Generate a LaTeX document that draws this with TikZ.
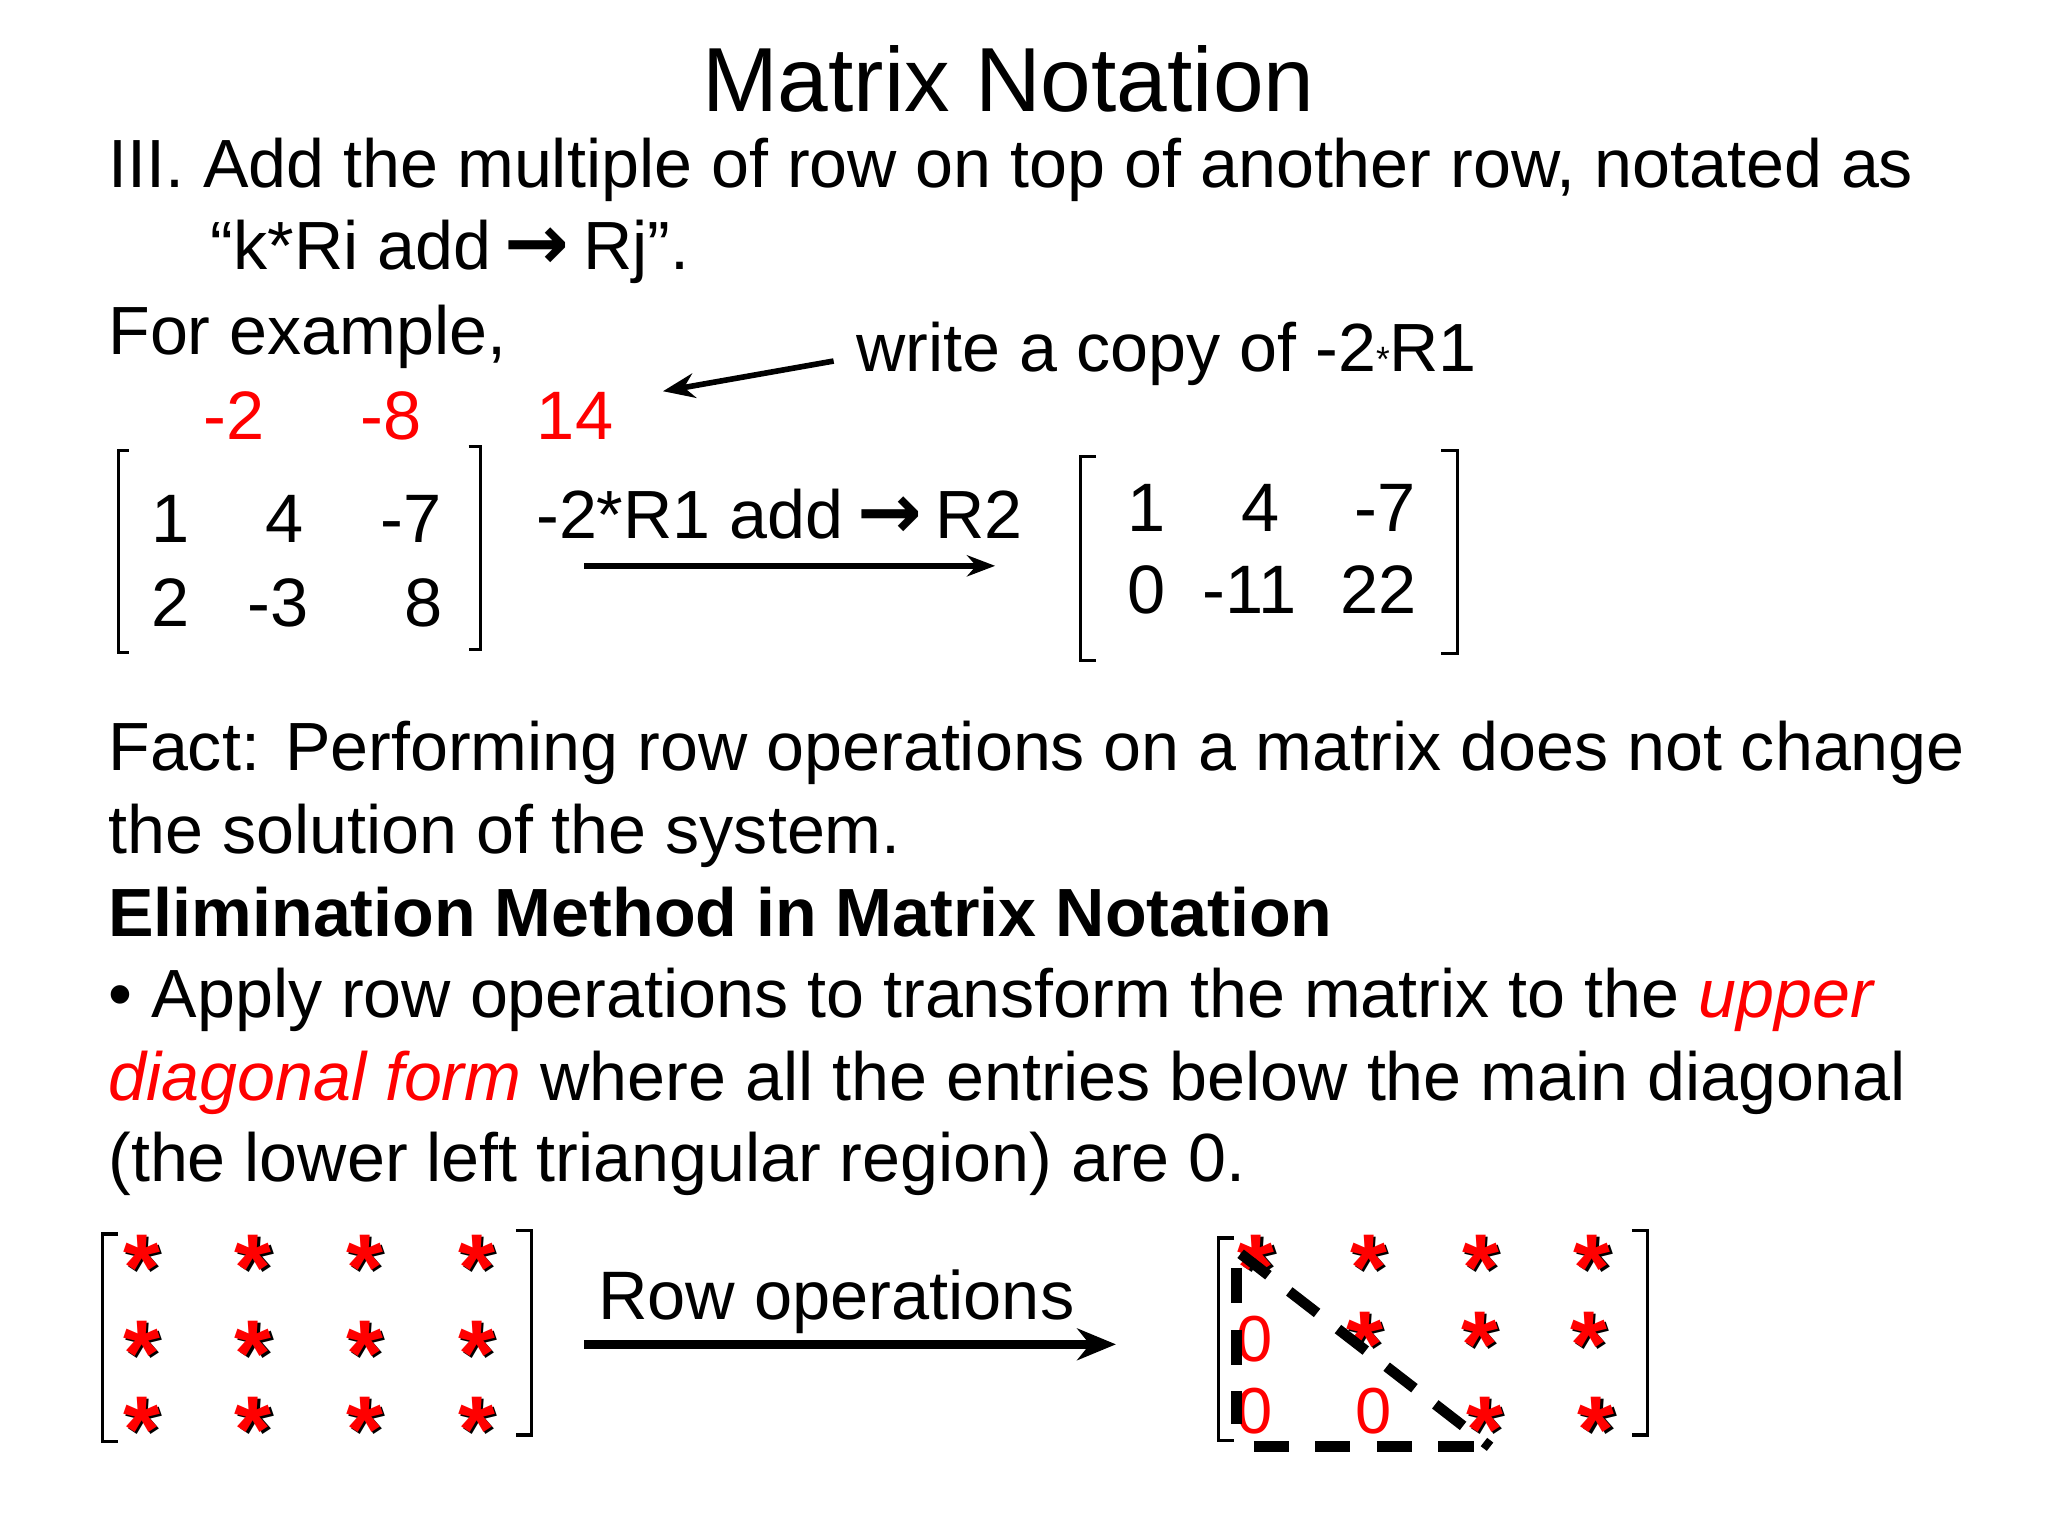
\documentclass[tikz,border=0pt]{standalone}
\usepackage{fontspec}
\setmainfont{Liberation Sans}
\newfontfamily\dejavu{DejaVu Sans}
\usetikzlibrary{arrows.meta}
\tikzset{
  txt/.style={anchor=base west,inner sep=0pt,font=\fontsize{19.4}{23}\selectfont},
  num/.style={anchor=base,inner sep=0pt,font=\fontsize{19.5}{23}\selectfont},
  rednum/.style={num,text=red},
  brk/.style={line width=0.9pt},
  star/.style={inner sep=0pt,font=\fontsize{27}{27}\selectfont\bfseries},
  zero/.style={inner sep=0pt,font=\fontsize{18.5}{20}\selectfont,text=red},
  tri/.style={line width=3pt,dash pattern=on 10pt off 7.5pt},
}
\newcommand{\rstar}[3]{\node[star,text=black] at ([shift={(1.6,1.6)}]#2,#3) {*};\node[star,text=red] (#1) at (#2,#3) {*};}
\newcommand{\myarr}{\hspace{0.2em}{\dejavu\fontsize{22}{20}\selectfont\bfseries →}\hspace{0.2em}}
\begin{document}
\begin{tikzpicture}[x=0.01313cm,y=-0.01313cm]
\useasboundingbox (0,0) rectangle (1560,1170);
\node[anchor=base,inner sep=0pt,font=\fontsize{25.9}{30}\selectfont] (title) at (768,85) {Matrix Notation};
\node[txt] (l1) at (82,143) {III. Add the multiple of row on top of another row, notated as};
\node[txt] (l2) at (160,205) {“k*Ri add\myarr Rj”.};
\node[txt] (l3) at (82,270) {For example,};
\node[txt] (wc) at (652,283) {write a copy of -2{\fontsize{10}{10}\selectfont*}R1};
\coordinate (wa) at (635,275);
\coordinate (wb) at (505,298);
\draw[line width=1.6pt,-{Stealth[length=9pt,width=7pt]}] (wa) -- (wb);
\node[rednum] (r1) at (178,335) {-2};
\node[rednum] (r2) at (298,335) {-8};
\node[rednum] (r3) at (438,335) {14};
% left matrix
\draw[brk] (98,343) -- (90,343) -- (90,497) -- (98,497);
\draw[brk] (357,340) -- (366,340) -- (366,495) -- (357,495);
\node[num] (a11) at (130,413) {1};
\node[num] (a12) at (217,413) {4};
\node[num] (a13) at (313,413) {-7};
\node[num] (a21) at (130,477) {2};
\node[num] (a22) at (212,477) {-3};
\node[num] (a23) at (323,477) {8};
\node[txt] (op) at (408,410) {-2*R1 add\myarr R2};
\coordinate (oa) at (445,431);
\coordinate (ob) at (758,431);
\draw[line width=1.6pt,-{Stealth[length=8pt,width=6pt]}] (oa) -- (ob);
% right matrix
\draw[brk] (835,348) -- (823,348) -- (823,503) -- (835,503);
\draw[brk] (1098,343) -- (1110,343) -- (1110,498) -- (1098,498);
\node[num] (b11) at (873,405) {1};
\node[num] (b12) at (960,405) {4};
\node[num] (b13) at (1055,405) {-7};
\node[num] (b21) at (873,467) {0};
\node[num] (b22) at (952,467) {-11};
\node[num] (b23) at (1050,467) {22};
% fact
\node[txt] (f1) at (82,587) {Fact: Performing row operations on a matrix does not change};
\node[txt] (f2) at (82,650) {the solution of the system.};
\node[txt,font=\fontsize{19.4}{23}\selectfont\bfseries] (hd) at (82,713) {Elimination Method in Matrix Notation};
\node[txt] (bu) at (82,775) {•};
\node[txt] (p1) at (115,775) {Apply row operations to transform the matrix to the \textcolor{red}{\itshape upper}};
\node[txt] (p2) at (82,838) {\textcolor{red}{\itshape diagonal form} where all the entries below the main diagonal};
\node[txt] (p3) at (82,900) {(the lower left triangular region) are 0.};
% bottom left matrix
\draw[brk] (90,940) -- (78,940) -- (78,1098) -- (90,1098);
\draw[brk] (393,937) -- (405,937) -- (405,1093) -- (393,1093);
\foreach \i/\x in {1/108,2/193,3/278,4/363}{
  \rstar{s1\i}{\x}{966}
  \rstar{s2\i}{\x}{1031}
  \rstar{s3\i}{\x}{1089}
}
\node[txt,font=\fontsize{19.5}{23}\selectfont] (ro) at (455,1005) {Row operations};
\coordinate (ra) at (445,1024);
\coordinate (rb) at (850,1024);
\draw[line width=2.6pt,-{Stealth[length=11pt,width=9pt]}] (ra) -- (rb);
% bottom right matrix
\draw[brk] (940,943) -- (928,943) -- (928,1097) -- (940,1097);
\draw[brk] (1243,937) -- (1255,937) -- (1255,1093) -- (1243,1093);
\rstar{t11}{957}{966}
\rstar{t12}{1043}{966}
\rstar{t13}{1128}{966}
\rstar{t14}{1213}{966}
\rstar{t22}{1040}{1024}
\rstar{t23}{1127}{1024}
\rstar{t24}{1210}{1024}
\rstar{t33}{1131}{1089}
\rstar{t34}{1216}{1089}
\node[zero] (z1) at (956,1020) {0};
\node[zero] (z2) at (956,1075) {0};
\node[zero] (z3) at (1046,1075) {0};
\coordinate (ta) at (942,966);
\coordinate (tb) at (942,1085);
\coordinate (tc) at (945,955);
\coordinate (td) at (1135,1102);
\coordinate (te) at (955,1102);
\draw[tri] (ta) -- (tb);
\draw[tri] (tc) -- (td);
\draw[tri] (te) -- (1125,1102);
\end{tikzpicture}
\end{document}
